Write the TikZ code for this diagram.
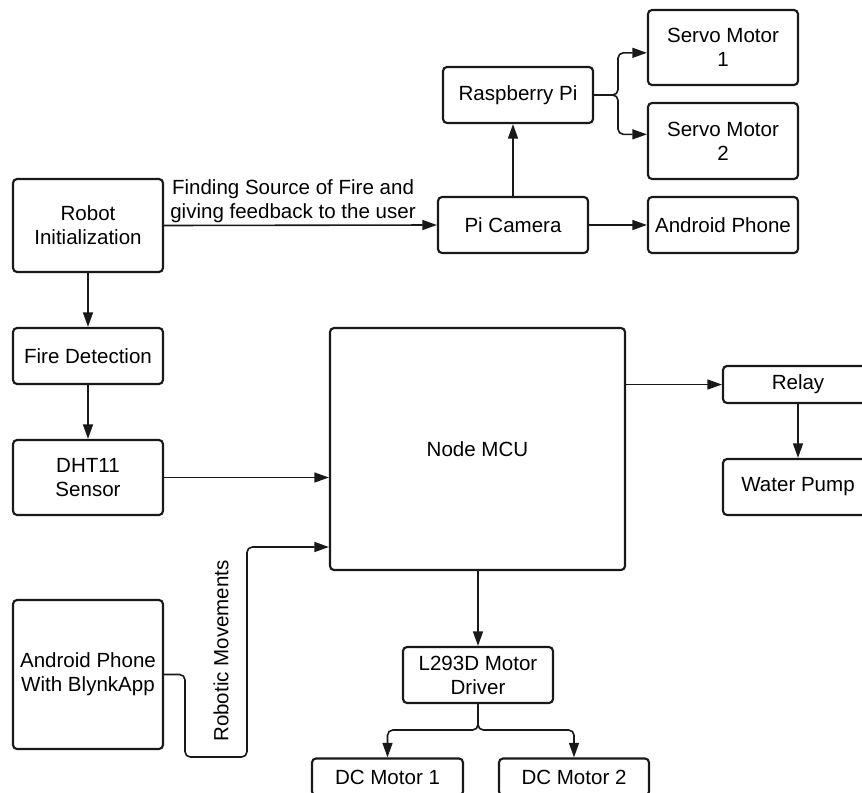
\documentclass[tikz,border=0pt]{standalone}
\usepackage{fontspec}
\setmainfont{Liberation Sans}
\usetikzlibrary{arrows.meta}

\tikzset{every picture/.style={line width=0.75pt}}
\tikzset{
  blk/.style={draw=black!90, rounded corners=3pt, line width=1.6pt, align=center, inner sep=1pt, font=\fontsize{15.4}{18}\selectfont},
  lbl/.style={inner sep=0.75pt, align=center, font=\fontsize{15.4}{18}\selectfont},
  conn/.style={draw=black!90, line width=1.2pt, -{Triangle[length=11pt,width=7.5pt]}},
}

\begin{document}
\begin{tikzpicture}[x=0.75pt,y=0.75pt,yscale=-1,xscale=1]
\useasboundingbox (0,0) rectangle (862,792);

%Shape: Rounded Rect (left column)
\node[blk, minimum width=112.5pt, minimum height=69.75pt] (init) at (88,225.5) {Robot\\Initialization};
\node[blk, minimum width=112.5pt, minimum height=42pt] (fire) at (88,356) {Fire Detection};
\node[blk, minimum width=112.5pt, minimum height=56.25pt] (dht) at (88,477.5) {DHT11\\Sensor};
\node[blk, minimum width=112.5pt, minimum height=111.75pt] (blynk) at (88,674.5) {Android Phone\\With BlynkApp};

%Shape: Rounded Rect (camera branch)
\node[blk, minimum width=112.5pt, minimum height=42pt] (cam) at (513,225) {Pi Camera};
\node[blk, minimum width=112.5pt, minimum height=42pt] (rpi) at (518,95) {Raspberry Pi};
\node[blk, minimum width=112.5pt, minimum height=56.25pt] (servoA) at (723,47.5) {Servo Motor\\1};
\node[blk, minimum width=112.5pt, minimum height=57pt] (servoB) at (723,141) {Servo Motor\\2};
\node[blk, minimum width=112.5pt, minimum height=42pt] (phone) at (723,225) {Android Phone};

%Shape: Rounded Rect (controller)
\node[blk, minimum width=221.25pt, minimum height=181.5pt] (mcu) at (477.5,449) {Node MCU};
\node[blk, minimum width=112.5pt, minimum height=27.75pt] (relay) at (798,384.5) {Relay};
\node[blk, minimum width=112.5pt, minimum height=42pt] (pump) at (798,487) {Water Pump};
\node[blk, minimum width=112.5pt, minimum height=42pt] (driver) at (478,675) {L293D Motor\\Driver};
\node[blk, minimum width=113.25pt, minimum height=27.75pt] (dcA) at (387.5,777) {DC Motor 1};
\node[blk, minimum width=112.5pt, minimum height=27.75pt] (dcB) at (574,777) {DC Motor 2};

% Text Node
\node[lbl] (findlbl) at (293,201) {Finding Source of Fire and\\giving feedback to the user};
% Text Node
\node[lbl, rotate=90] (rmlbl) at (221,651) {Robotic Movements};

\coordinate (fork) at (618,95);
\coordinate (rmturn) at (185,757);
\coordinate (rmup) at (247,547);
\coordinate (split) at (478,730);

%Straight Lines
\draw[conn] (init.east) -- (cam.west);
\draw[conn] (init.south) -- (fire.north);
\draw[conn] (fire.south) -- (dht.north);
\draw[conn] (dht.east) -- (dht.east -| mcu.west);
\draw[conn, rounded corners=4pt] (blynk.east) -| (rmturn) -| (rmup) -- (rmup -| mcu.west);
\draw[conn] (cam.north) -- (cam.north |- rpi.south);
\draw[conn, rounded corners=4pt] (rpi.east) -- (fork) |- ([yshift=4pt]servoA.west);
\draw[conn, rounded corners=4pt] (rpi.east) -- (fork) |- ([yshift=-5pt]servoB.west);
\draw[conn] (cam.east) -- (phone.west);
\draw[conn] (mcu.east |- relay.west) -- (relay.west);
\draw[conn] (relay.south) -- (pump.north);
\draw[conn] (mcu.south -| driver.north) -- (driver.north);
\draw[conn, rounded corners=4pt] (driver.south) -- (split) -| (dcA.north);
\draw[conn, rounded corners=4pt] (driver.south) -- (split) -| (dcB.north);

\end{tikzpicture}
\end{document}
